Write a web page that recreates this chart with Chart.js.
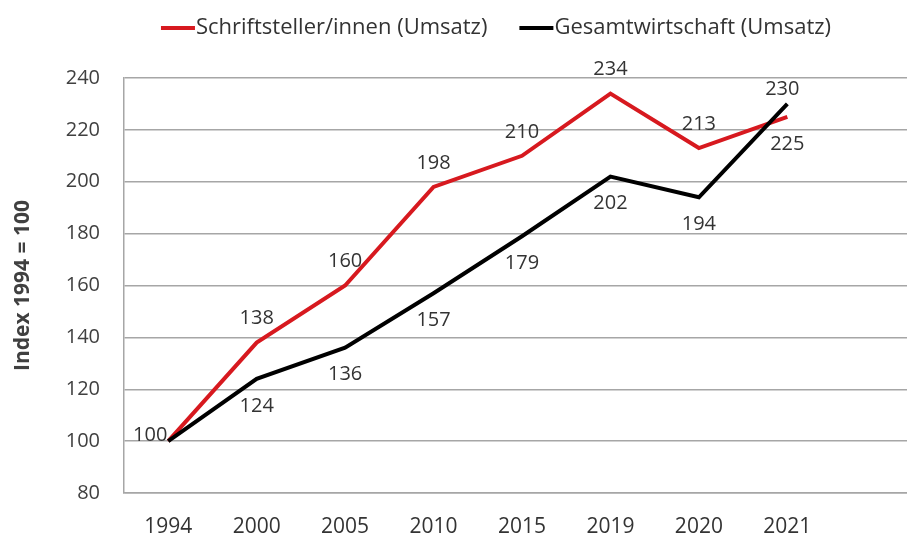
<!DOCTYPE html>
<html>
<head>
<meta charset="utf-8">
<script src="https://cdn.jsdelivr.net/npm/chart.js@4.4.1/dist/chart.umd.min.js"></script>
<style>
html, body { margin: 0; padding: 0; background: #fff; overflow: hidden; }
#wrap { width: 920px; height: 535px; }
</style>
</head>
<body>
<div id="wrap"><canvas id="chart" width="920" height="535"></canvas></div>
<script>
// Werte
const years = ['1994', '2000', '2005', '2010', '2015', '2019', '2020', '2021'];
const autoren = [100, 138, 160, 198, 210, 234, 213, 225];
const gesamt = [100, 124, 136, 157, 179, 202, 194, 230];
const yMin = 80, yMax = 240, yStep = 20;

// wo die Zahlen stehen (über / unter / links)
const autorenPos = ['left', 'up', 'up', 'up', 'up', 'up', 'up', 'down'];
const gesamtPos = ['none', 'down', 'down', 'down', 'down', 'down', 'down', 'end'];

const FONT = '"Open Sans", "DejaVu Sans", sans-serif';
const offsets = { up: [0, -24], down: [0, 27], left: [-18, -6], end: [-5, -15] };

const valueLabels = {
    id: 'valueLabels',
    afterDatasetsDraw(chart) {
        const ctx = chart.ctx;
        ctx.save();
        ctx.font = '20px ' + FONT;
        ctx.fillStyle = '#333';
        ctx.textAlign = 'center';
        ctx.textBaseline = 'middle';
        chart.data.datasets.forEach((ds, i) => {
            const meta = chart.getDatasetMeta(i);
            meta.data.forEach((pt, j) => {
                const pos = ds.labelPos[j];
                if (!offsets[pos]) return;
                const [dx, dy] = offsets[pos];
                ctx.fillText(String(ds.data[j]), pt.x + dx, pt.y + dy);
            });
        });
        ctx.restore();
    }
};

// Legende selbst zeichnen, damit sie wie im Original sitzt
const lineLegend = {
    id: 'lineLegend',
    afterDraw(chart) {
        const ctx = chart.ctx;
        ctx.save();
        ctx.font = '22px ' + FONT;
        ctx.textBaseline = 'middle';
        const items = chart.data.datasets.map(d => ({ text: d.label, color: d.borderColor, w: ctx.measureText(d.label).width }));
        const boxW = 34, gap = 1, itemGap = 32, y = 28;
        const total = items.reduce((a, it) => a + boxW + gap + it.w, 0) + itemGap * (items.length - 1);
        let x = 496 - total / 2;
        items.forEach(it => {
            ctx.strokeStyle = it.color;
            ctx.lineWidth = 4;
            ctx.beginPath();
            ctx.moveTo(x, y);
            ctx.lineTo(x + boxW, y);
            ctx.stroke();
            ctx.fillStyle = '#333';
            ctx.fillText(it.text, x + boxW + gap, y);
            x += boxW + gap + it.w + itemGap;
        });
        ctx.restore();
    }
};

new Chart(document.getElementById('chart'), {
    type: 'line',
    data: {
        labels: years.concat(['']),
        datasets: [
            {
                label: 'Schriftsteller/innen (Umsatz)',
                data: autoren,
                labelPos: autorenPos,
                borderColor: '#d7191f',
                borderWidth: 4,
                pointRadius: 0,
                tension: 0,
                order: 2
            },
            {
                label: 'Gesamtwirtschaft (Umsatz)',
                data: gesamt,
                labelPos: gesamtPos,
                borderColor: '#000000',
                borderWidth: 4,
                pointRadius: 0,
                tension: 0,
                order: 1
            }
        ]
    },
    options: {
        responsive: false,
        animation: false,
        layout: { padding: { top: 78, right: 0, bottom: 0, left: 0 } },
        plugins: {
            legend: { display: false },
            tooltip: { enabled: false }
        },
        scales: {
            x: {
                offset: true,
                grid: { display: false },
                border: { display: true, color: '#a6a6a6', width: 1.5 },
                ticks: { font: { family: FONT, size: 21 }, color: '#333', padding: 13, maxRotation: 0, autoSkip: false },
                afterFit(scale) { scale.height = 42; }
            },
            y: {
                min: yMin,
                max: yMax,
                ticks: { stepSize: yStep, font: { family: FONT, size: 20 }, color: '#404040', padding: 24 },
                grid: { color: '#a6a6a6', lineWidth: 1.5, drawTicks: false },
                border: { display: true, color: '#a6a6a6', width: 1.5 },
                title: {
                    display: true,
                    text: 'Index 1994 = 100',
                    font: { family: FONT, size: 21, weight: 'bold' },
                    color: '#404040',
                    padding: { top: 10, bottom: 0 }
                },
                afterFit(scale) { scale.width = 124; }
            }
        }
    },
    plugins: [valueLabels, lineLegend]
});
</script>
</body>
</html>
